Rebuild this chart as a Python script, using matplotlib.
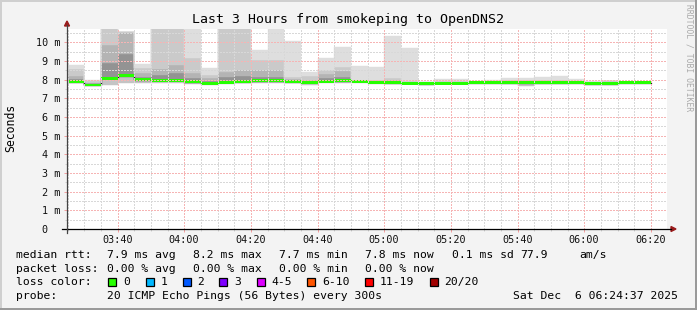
import numpy as np
import matplotlib
matplotlib.use("Agg")
import matplotlib.pyplot as plt
from matplotlib.lines import Line2D
from matplotlib.patches import Polygon, Rectangle

W, H = 697, 310
MONO = "DejaVu Sans Mono"

# 5 minute bins, minutes after midnight: 03:25 .. 06:20
bin_start = 205
bin_step = 5

# per-bin ping statistics in ms
median = [7.90, 7.72, 8.07, 8.22, 8.00, 7.97, 7.97, 7.90, 7.82, 7.87,
          7.90, 7.94, 7.94, 7.90, 7.87, 7.91, 7.94, 7.91, 7.87, 7.84,
          7.81, 7.79, 7.81, 7.81, 7.84, 7.84, 7.85, 7.85, 7.85, 7.85,
          7.85, 7.78, 7.78, 7.85, 7.85]
smoke_min = [7.80, 7.66, 7.72, 7.85, 7.82, 7.85, 7.85, 7.78, 7.72, 7.78,
             7.80, 7.82, 7.84, 7.80, 7.72, 7.80, 7.82, 7.80, 7.75, 7.75,
             7.75, 7.74, 7.75, 7.75, 7.80, 7.80, 7.78, 7.68, 7.78, 7.78,
             7.80, 7.72, 7.74, 7.82, 7.82]
smoke_p60 = [8.05, 7.80, 8.92, 9.39, 8.15, 8.25, 8.35, 8.10, 7.95, 8.15,
             8.20, 8.15, 8.15, 7.98, 7.93, 8.10, 8.15, 7.95, 7.92, 7.93,
             7.85, 7.82, 7.85, 7.85, 7.86, 7.87, 7.90, 7.90, 7.90, 7.90,
             7.89, 7.82, 7.90, 7.87, 7.87]
smoke_p75 = [8.20, 7.85, 9.87, 10.58, 8.35, 8.55, 8.80, 8.37, 8.10, 8.40,
             8.53, 8.50, 8.50, 8.05, 8.00, 8.30, 8.45, 7.98, 7.95, 8.00,
             7.90, 7.84, 7.90, 7.90, 7.88, 7.90, 7.94, 7.94, 7.95, 7.95,
             7.92, 7.85, 7.91, 7.88, 7.88]
smoke_p90 = [8.55, 7.92, 11.00, 10.58, 8.62, 11.00, 11.00, 9.16, 8.25, 11.00,
             11.00, 9.07, 9.07, 8.17, 8.20, 8.53, 8.66, 8.00, 8.00, 8.10,
             7.95, 7.86, 7.95, 7.95, 7.90, 7.92, 7.98, 7.98, 8.00, 8.00,
             7.95, 7.88, 7.92, 7.89, 7.89]
smoke_max = [8.80, 8.00, 11.20, 10.58, 8.85, 11.20, 11.20, 11.20, 8.62, 11.20,
             11.20, 9.60, 10.73, 10.08, 8.39, 9.16, 9.78, 8.75, 8.71, 10.32,
             9.72, 7.88, 8.03, 8.03, 7.95, 7.98, 8.10, 8.10, 8.17, 8.20,
             8.03, 7.92, 7.95, 7.90, 7.90]

xtick_pos = [220, 240, 260, 280, 300, 320, 340, 360, 380]
xtick_labels = ["03:40", "04:00", "04:20", "04:40", "05:00",
                "05:20", "05:40", "06:00", "06:20"]
ytick_pos = list(range(0, 11))
ytick_labels = ["0  "] + ["%d m" % v for v in range(1, 11)]

loss_labels = ["0", "1", "2", "3", "4-5", "6-10", "11-19", "20/20"]
loss_colors = ["#26ff00", "#00b8ff", "#0059ff", "#7e00ff",
               "#dd00ff", "#ff5500", "#ff0000", "#a10000"]

rtt_stats = ["7.9 ms avg", "8.2 ms max", "7.7 ms min", "7.8 ms now",
             "0.1 ms sd", "77.9", "am/s"]
loss_stats = ["0.00 % avg", "0.00 % max", "0.00 % min", "0.00 % now"]
probe_text = "20 ICMP Echo Pings (56 Bytes) every 300s"
stamp_text = "Sat Dec  6 06:24:37 2025"


def fx(px):
    return px / W


def fy(py):
    return 1 - py / H


fig = plt.figure(figsize=(W / 100, H / 100), dpi=100, facecolor="#f3f3f3")
ax = fig.add_axes([fx(67), fy(229), 600 / W, 200 / H])
ax.set_facecolor("white")

n = len(median)
t = bin_start + bin_step * np.arange(n + 1)


def ext(a):
    a = np.asarray(a, dtype=float)
    return np.append(a, a[-1])


bands = [(smoke_min, median, "#c4c4c4"),
         (median, smoke_p60, "#939393"),
         (smoke_p60, smoke_p75, "#b4b4b4"),
         (smoke_p75, smoke_p90, "#cacaca"),
         (smoke_p90, smoke_max, "#dedede")]
for lo, hi, c in bands:
    ax.fill_between(t, ext(lo), ext(hi), step="post", color=c,
                    lw=0.3, edgecolor=c, zorder=1)

med = ext(median)
ax.step(t, med, where="post", color="#202020", lw=0.9, zorder=1.2)
ax.fill_between(t, med - 0.075, med + 0.075, step="post",
                color=loss_colors[0], lw=0, zorder=1.5)

ax.set_xlim(204.85, 384.85)
ax.set_ylim(0, 10.72)
ax.set_xticks(xtick_pos, xtick_labels)
ax.set_xticks(np.arange(205, 385, 5), minor=True)
ax.set_yticks(ytick_pos, ytick_labels)
ax.set_yticks(np.arange(0.5, 10.6, 1.0), minor=True)

ax.set_axisbelow(False)
ax.grid(which="minor", color="#d8d8d8", ls=(0, (1, 1)), lw=1.0,
        antialiased=False)
ax.grid(which="major", color="#f6b4b4", ls=(0, (1, 1)), lw=1.0,
        antialiased=False)
for s in ax.spines.values():
    s.set_visible(False)
ax.tick_params(which="major", length=2.2, width=0.72, color="#f2a0a0",
               labelsize=7.3, labelcolor="#111111")
ax.tick_params(which="minor", length=1.5, width=0.72, color="#d0d0d0")
ax.tick_params(axis="y", pad=2.8)
ax.tick_params(axis="x", pad=2.0)
for lab in ax.get_xticklabels() + ax.get_yticklabels():
    lab.set_family(MONO)

# axes with arrow heads
fig.add_artist(Line2D([fx(62), fx(671)], [fy(229), fy(229)], color="black",
                      lw=0.9, transform=fig.transFigure))
fig.add_artist(Line2D([fx(67), fx(67)], [fy(233), fy(25)], color="#444444",
                      lw=0.9, transform=fig.transFigure))
arrow_c = "#9a1c1c"
fig.add_artist(Polygon([[fx(671), fy(226.5)], [fx(676), fy(229)],
                        [fx(671), fy(231.5)]], closed=True, color=arrow_c,
                       transform=fig.transFigure))
fig.add_artist(Polygon([[fx(64.5), fy(26)], [fx(67), fy(21)],
                        [fx(69.5), fy(26)]], closed=True, color=arrow_c,
                       transform=fig.transFigure))

# titles
fig.text(fx(348.5), fy(19), "Last 3 Hours from smokeping to OpenDNS2",
         ha="center", va="center", family=MONO, fontsize=9.5)
fig.text(fx(11), fy(128), "Seconds", rotation=90, ha="center", va="center",
         family=MONO, fontsize=8.3)
fig.text(fx(688.5), fy(58), "RRDTOOL / TOBI OETIKER", rotation=270,
         ha="center", va="center", family=MONO, fontsize=5.8, color="#aaaaaa")

# legend block
fs = 8.2
row_y = [255, 268.5, 282.3, 296]
fig.text(fx(16), fy(row_y[0]), "median rtt:", va="center", family=MONO, fontsize=fs)
for xp, s in zip([107.3, 193.3, 279.3, 365, 451.7, 520, 579.3], rtt_stats):
    fig.text(fx(xp), fy(row_y[0]), s, va="center", family=MONO, fontsize=fs)

fig.text(fx(16), fy(row_y[1]), "packet loss:", va="center", family=MONO, fontsize=fs)
for xp, s in zip([107.3, 193.3, 279.3, 365], loss_stats):
    fig.text(fx(xp), fy(row_y[1]), s, va="center", family=MONO, fontsize=fs)

fig.text(fx(16), fy(row_y[2]), "loss color:", va="center", family=MONO, fontsize=fs)
box_x = [108.3, 145.7, 182.7, 219.3, 256.7, 307.3, 365, 430]
for bx, lab, c in zip(box_x, loss_labels, loss_colors):
    fig.add_artist(Rectangle((fx(bx), fy(row_y[2] + 4)), 8 / W, 8 / H,
                             transform=fig.transFigure, fc=c, ec="black",
                             lw=0.9))
    fig.text(fx(bx + 14.5), fy(row_y[2]), lab, va="center", family=MONO,
             fontsize=fs)

fig.text(fx(16), fy(row_y[3]), "probe:", va="center", family=MONO, fontsize=fs)
fig.text(fx(107.3), fy(row_y[3]), probe_text, va="center", family=MONO, fontsize=fs)
fig.text(fx(513.3), fy(row_y[3]), stamp_text, va="center", family=MONO, fontsize=fs)

# 3d frame
light, dark = "#cfcfcf", "#9a9a9a"
fig.add_artist(Line2D([0, 1], [fy(0.7), fy(0.7)], color=light, lw=1.44,
                      transform=fig.transFigure))
fig.add_artist(Line2D([fx(0.7), fx(0.7)], [0, 1], color=light, lw=1.44,
                      transform=fig.transFigure))
fig.add_artist(Line2D([0, 1], [fy(309), fy(309)], color=dark, lw=1.44,
                      transform=fig.transFigure))
fig.add_artist(Line2D([fx(696), fx(696)], [0, 1], color=dark, lw=1.44,
                      transform=fig.transFigure))

fig.savefig("out.png", dpi=100, facecolor=fig.get_facecolor())
plt.close(fig)
